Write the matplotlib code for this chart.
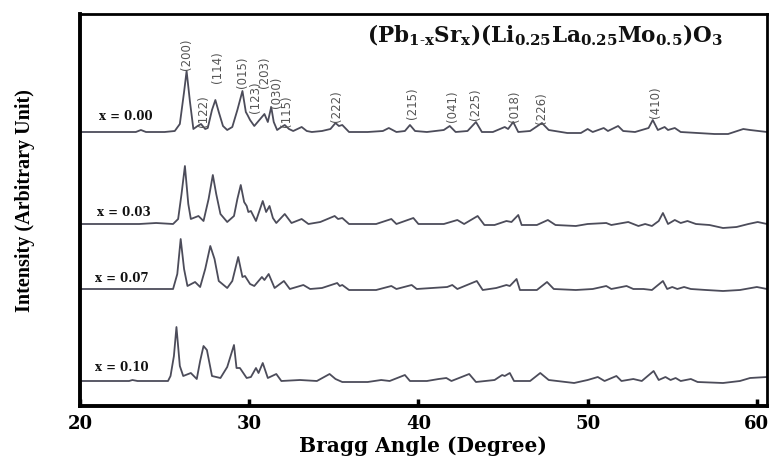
import matplotlib
matplotlib.use("Agg")
import matplotlib.pyplot as plt

# ---------------- data ----------------
compositions = ["x = 0.00", "x = 0.03", "x = 0.07", "x = 0.10"]
offsets = [274, 182, 117, 25]   # vertical stacking of the traces (arb. units)

angle_000 = [20.0, 22.0, 23.3, 23.6, 23.9, 25.0, 25.6, 25.9, 26.15, 26.3, 26.5, 26.7, 26.95, 27.15, 27.4,
             27.55, 27.8, 28.0, 28.2, 28.45, 28.7, 29.0, 29.3, 29.6, 29.8, 29.9, 30.05, 30.3, 30.6, 30.9,
             31.1, 31.3, 31.45, 31.65, 31.9, 32.1, 32.35, 32.6, 33.1, 33.4, 33.7, 34.3, 34.8, 35.1, 35.3,
             35.5, 35.9, 37.0, 37.9, 38.25, 38.7, 39.2, 39.5, 39.8, 40.5, 41.5, 41.85, 42.2, 42.9, 43.4,
             43.75, 44.4, 45.1, 45.3, 45.6, 45.9, 46.6, 47.3, 47.7, 48.8, 49.6, 50.0, 50.3, 50.95, 51.2,
             51.8, 52.1, 52.8, 53.6, 53.85, 54.15, 54.55, 54.75, 55.15, 55.5, 56.5, 57.5, 58.3, 59.2,
             59.6, 60.6]
inten_000 = [0, 0, 0, 2, 0, 0, 1, 8, 40, 61, 30, 3, 6, 8, 3,
             4, 22, 32, 20, 6, 2, 5, 22, 41, 20, 17, 12, 6, 12, 18,
             10, 25, 10, 2, 5, 7, 3, 1, 5, 1, 0, 1, 3, 9, 6,
             7, 0, 0, 1, 4, 0, 1, 7, 1, 0, 2, 6, 0, 1, 10,
             0, 0, 5, 3, 10, 0, 1, 9, 2, -1, -1, 3, 0, 4, 1,
             6, 1, 0, 4, 12, 2, 5, 2, 4, 0, -1, -2, -2, 3,
             2, 0]

angle_003 = [20.0, 23.5, 24.5, 25.5, 25.8, 26.0, 26.2, 26.4, 26.55, 27.0, 27.3, 27.6, 27.85, 28.05, 28.3,
             28.7, 29.1, 29.3, 29.5, 29.7, 29.85, 29.95, 30.1, 30.4, 30.8, 31.0, 31.2, 31.4, 31.6, 32.1,
             32.5, 33.1, 33.5, 34.2, 35.05, 35.25, 35.5, 35.9, 37.5, 38.4, 38.7, 39.7, 40.0, 41.5, 42.3,
             42.7, 43.5, 43.9, 44.5, 45.2, 45.5, 45.9, 46.1, 47.0, 47.65, 48.1, 49.3, 50.0, 51.1, 51.4,
             52.4, 53.0, 53.4, 53.8, 54.2, 54.45, 54.75, 55.15, 55.5, 55.9, 56.4, 57.2, 58.0, 58.8, 59.5,
             60.05, 60.6]
inten_003 = [0, 0, 1, 0, 5, 30, 58, 20, 5, 8, 3, 25, 49, 30, 10,
             2, 8, 25, 39, 22, 18, 12, 13, 3, 23, 12, 18, 6, 1, 10,
             1, 5, 0, 2, 8, 5, 6, 0, 0, 5, 0, 6, 0, 0, 4,
             0, 8, -1, -1, 3, 2, 9, -1, -1, 4, -1, -2, 0, 1, -1,
             2, -2, 0, -2, 3, 11, 0, 4, 1, 3, 0, -1, -4, -3, 0,
             2, 0]

angle_007 = [20.0, 23.0, 24.5, 25.5, 25.75, 25.95, 26.15, 26.35, 26.8, 27.1, 27.4, 27.7, 27.95, 28.2, 28.7,
             29.0, 29.35, 29.6, 29.75, 30.05, 30.3, 30.75, 30.9, 31.15, 31.5, 32.05, 32.4, 33.2, 33.6, 34.3,
             35.2, 35.35, 35.5, 35.9, 37.5, 38.4, 38.7, 39.6, 39.9, 41.7, 42.0, 42.3, 43.45, 43.8, 44.6,
             45.2, 45.4, 45.8, 46.0, 47.0, 47.6, 48.0, 49.3, 50.3, 51.1, 51.4, 52.3, 52.7, 53.3, 53.8,
             54.45, 54.7, 55.0, 55.3, 55.7, 56.1, 57.0, 58.0, 59.0, 60.0, 60.6]
inten_007 = [0, 0, 0, 0, 15, 50, 20, 3, 7, 2, 20, 43, 30, 8, 1,
             8, 32, 12, 13, 5, 3, 12, 9, 15, 1, 8, 0, 4, 0, 1,
             6, 3, 4, -1, -1, 3, 0, 4, 0, 2, 4, 0, 8, -1, 1,
             4, 3, 10, -1, -1, 7, 0, -1, 0, 3, 0, 3, 0, 0, -1,
             8, 0, 2, 0, 2, 0, -1, -2, -1, 2, 0]

angle_010 = [20.0, 22.9, 23.1, 23.4, 25.2, 25.35, 25.55, 25.7, 25.9, 26.1, 26.55, 26.9, 27.1, 27.3, 27.5,
             27.8, 28.3, 28.7, 29.1, 29.25, 29.45, 29.85, 30.1, 30.4, 30.55, 30.8, 31.1, 31.6, 31.9, 33.0,
             34.0, 34.75, 35.1, 35.5, 37.0, 37.8, 38.3, 39.2, 39.5, 40.5, 41.2, 41.65, 41.95, 43.0, 43.4,
             44.5, 44.95, 45.1, 45.4, 45.65, 46.6, 47.2, 47.7, 49.2, 50.0, 50.6, 51.0, 51.7, 52.0, 52.7,
             53.2, 53.9, 54.2, 54.6, 54.9, 55.2, 55.5, 56.1, 56.5, 58.0, 59.0, 59.6, 60.6]
inten_010 = [0, 0, 1, 0, 0, 5, 25, 54, 15, 5, 8, 2, 20, 35, 31,
             5, 3, 14, 36, 13, 13, 3, 4, 13, 8, 18, 3, 7, 0, 1,
             0, 7, 2, -1, -1, 1, 0, 6, 0, 0, 2, 3, 0, 7, -1,
             1, 6, 5, 8, 0, 0, 8, 1, -2, 1, 4, 0, 5, 0, 2,
             0, 10, 1, 4, 1, 3, 0, 2, -1, -2, 0, 3, 4]

angles = [angle_000, angle_003, angle_007, angle_010]
intensities = [inten_000, inten_003, inten_007, inten_010]

hkl_labels = ["(200)", "(122)", "(114)", "(015)", "(123)", "(203)", "(030)", "(115)",
              "(222)", "(215)", "(041)", "(225)", "(018)", "(226)", "(410)"]
hkl_angle = [26.32, 27.27, 28.15, 29.63, 30.4, 30.93, 31.64, 32.23,
             35.18, 39.67, 42.03, 43.39, 45.69, 47.29, 54.02]
hkl_level = [337, 280, 324, 319, 294, 319, 299, 280,
             285, 288, 285, 287, 285, 283, 289]

xticks = [20, 30, 40, 50, 60]

# ---------------- figure ----------------
serif = ["Liberation Serif", "DejaVu Serif"]
wide_serif = ["DejaVu Serif"]
plt.rcParams["mathtext.fontset"] = "dejavuserif"

fig = plt.figure(figsize=(7.73, 4.60), dpi=100)
ax = fig.add_axes([80 / 773, 1 - 407 / 460, 687 / 773, 392 / 460])

line_color = "#4c4c5a"
for comp, off, xs, ys in zip(compositions, offsets, angles, intensities):
    ax.plot(xs, [off + v for v in ys], color=line_color, lw=1.3)

label_x = [21.1, 21.0, 20.9, 20.9]
label_dy = [16, 12, 12, 14]
for comp, off, lx, dy in zip(compositions, offsets, label_x, label_dy):
    ax.text(lx, off + dy, comp, family=wide_serif, fontweight="bold", fontsize=8.5,
            ha="left", va="center", color="#111111")

for lab, xa, yl in zip(hkl_labels, hkl_angle, hkl_level):
    ax.text(xa, yl, lab, rotation=90, ha="center", va="bottom", fontsize=8.5,
            family=["Liberation Sans Narrow", "DejaVu Sans"], color="#555555")

ax.text(47.5, 372, r"$\mathbf{(Pb_{1\text{-}x}Sr_{x})(Li_{0.25}La_{0.25}Mo_{0.5})O_{3}}$",
        ha="center", va="center", fontsize=15.5, color="#111111")

ax.set_xlim(20, 60.6)
ax.set_ylim(0, 392)
ax.set_yticks([])
ax.set_xticks(xticks)
ax.set_xticklabels([str(t) for t in xticks], family=wide_serif, fontweight="bold", fontsize=13)
ax.tick_params(axis="x", direction="in", length=5, width=2.5, pad=6)

for side in ["left", "bottom"]:
    ax.spines[side].set_linewidth(2.8)
for side in ["top", "right"]:
    ax.spines[side].set_linewidth(2.0)

fig.text(423 / 773, 1 - 446 / 460, "Bragg Angle (Degree)", family=wide_serif,
         fontweight="bold", fontsize=14.5, ha="center", va="center")
fig.text(25 / 773, 0.565, "Intensity (Arbitrary Unit)", rotation=90, family=serif,
         fontweight="bold", fontsize=14.5, ha="center", va="center")

fig.savefig("out.png", dpi=100, facecolor="white")
